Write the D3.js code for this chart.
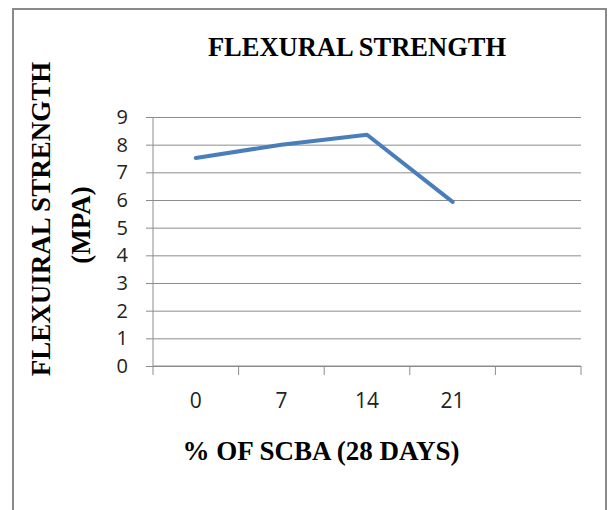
<!DOCTYPE html>
<html>
<head>
<meta charset="utf-8">
<script src="https://cdn.jsdelivr.net/npm/d3@7"></script>
<style>
  body { margin: 0; background: #fff; }
</style>
</head>
<body>
<script>
// data
const categories = ["0", "7", "14", "21", ""];
const strength = [7.52, 8.0, 8.36, 5.93];
const yTicks = [0, 1, 2, 3, 4, 5, 6, 7, 8, 9];

const width = 610, height = 510;
const svg = d3.select("body").append("svg")
    .attr("width", width)
    .attr("height", height);

// outer frame
svg.append("rect")
    .attr("x", 13).attr("y", 9)
    .attr("width", 593).attr("height", 520)
    .attr("fill", "#fff")
    .attr("stroke", "#8a8a8a")
    .attr("stroke-width", 2);

const plotL = 153, plotR = 581, plotT = 117, plotB = 366;

const x = d3.scaleBand().domain(categories).range([plotL, plotR]);
const y = d3.scaleLinear().domain([0, 9]).range([plotB, plotT]);

const sans = "'Open Sans', 'Liberation Sans', sans-serif";
const serif = "'Liberation Serif', 'Times New Roman', serif";

// gridlines + y axis
const yAxis = d3.axisLeft(y).tickValues(yTicks).tickSize(-(plotR - plotL)).tickPadding(25);
const gy = svg.append("g").attr("transform", `translate(${plotL},0)`).call(yAxis);
gy.select(".domain").remove();
gy.selectAll(".tick line").attr("stroke", "#8c8c8c").attr("x1", -7);
gy.selectAll(".tick text")
    .attr("font-family", sans)
    .attr("font-size", 20).attr("fill", "#222");

svg.append("line")
    .attr("x1", plotL).attr("x2", plotL)
    .attr("y1", plotT).attr("y2", plotB)
    .attr("stroke", "#8c8c8c");

// x axis, ticks sit between categories
const gx = svg.append("g").attr("transform", `translate(0,${plotB})`);
gx.append("line").attr("x1", plotL).attr("x2", plotR).attr("stroke", "#8c8c8c");
gx.selectAll("line.tk")
    .data(categories.concat(["end"]))
    .join("line").attr("class", "tk")
    .attr("x1", (d, i) => i < categories.length ? x(d) : plotR)
    .attr("x2", (d, i) => i < categories.length ? x(d) : plotR)
    .attr("y1", 0).attr("y2", 9)
    .attr("stroke", "#8c8c8c");
gx.selectAll("text")
    .data(categories.filter(c => c !== ""))
    .join("text")
    .attr("x", d => x(d) + x.bandwidth() / 2)
    .attr("y", 42)
    .attr("text-anchor", "middle")
    .attr("font-family", sans)
    .attr("font-size", 21).attr("fill", "#222")
    .text(d => d);

// the line
const line = d3.line()
    .x((d, i) => x(categories[i]) + x.bandwidth() / 2)
    .y(d => y(d));
svg.append("path")
    .datum(strength)
    .attr("d", line)
    .attr("fill", "none")
    .attr("stroke", "#4a7ebb")
    .attr("stroke-width", 4)
    .attr("stroke-linejoin", "round")
    .attr("stroke-linecap", "round");

svg.append("text")
    .attr("x", 357).attr("y", 56)
    .attr("text-anchor", "middle")
    .attr("font-family", serif).attr("font-weight", "bold")
    .attr("font-size", 26.5)
    .text("FLEXURAL STRENGTH");

svg.append("text")
    .attr("x", 321).attr("y", 460)
    .attr("text-anchor", "middle")
    .attr("font-family", serif).attr("font-weight", "bold")
    .attr("font-size", 27)
    .text("% OF SCBA (28 DAYS)");

const yl = svg.append("text")
    .attr("transform", "translate(50,219) rotate(-90)")
    .attr("text-anchor", "middle")
    .attr("font-family", serif).attr("font-weight", "bold")
    .attr("font-size", 27);
yl.append("tspan").attr("x", 0).attr("y", 0).text("FLEXUIRAL STRENGTH");
yl.append("tspan").attr("x", -6).attr("dy", 40).text("(MPA)");
</script>
</body>
</html>
